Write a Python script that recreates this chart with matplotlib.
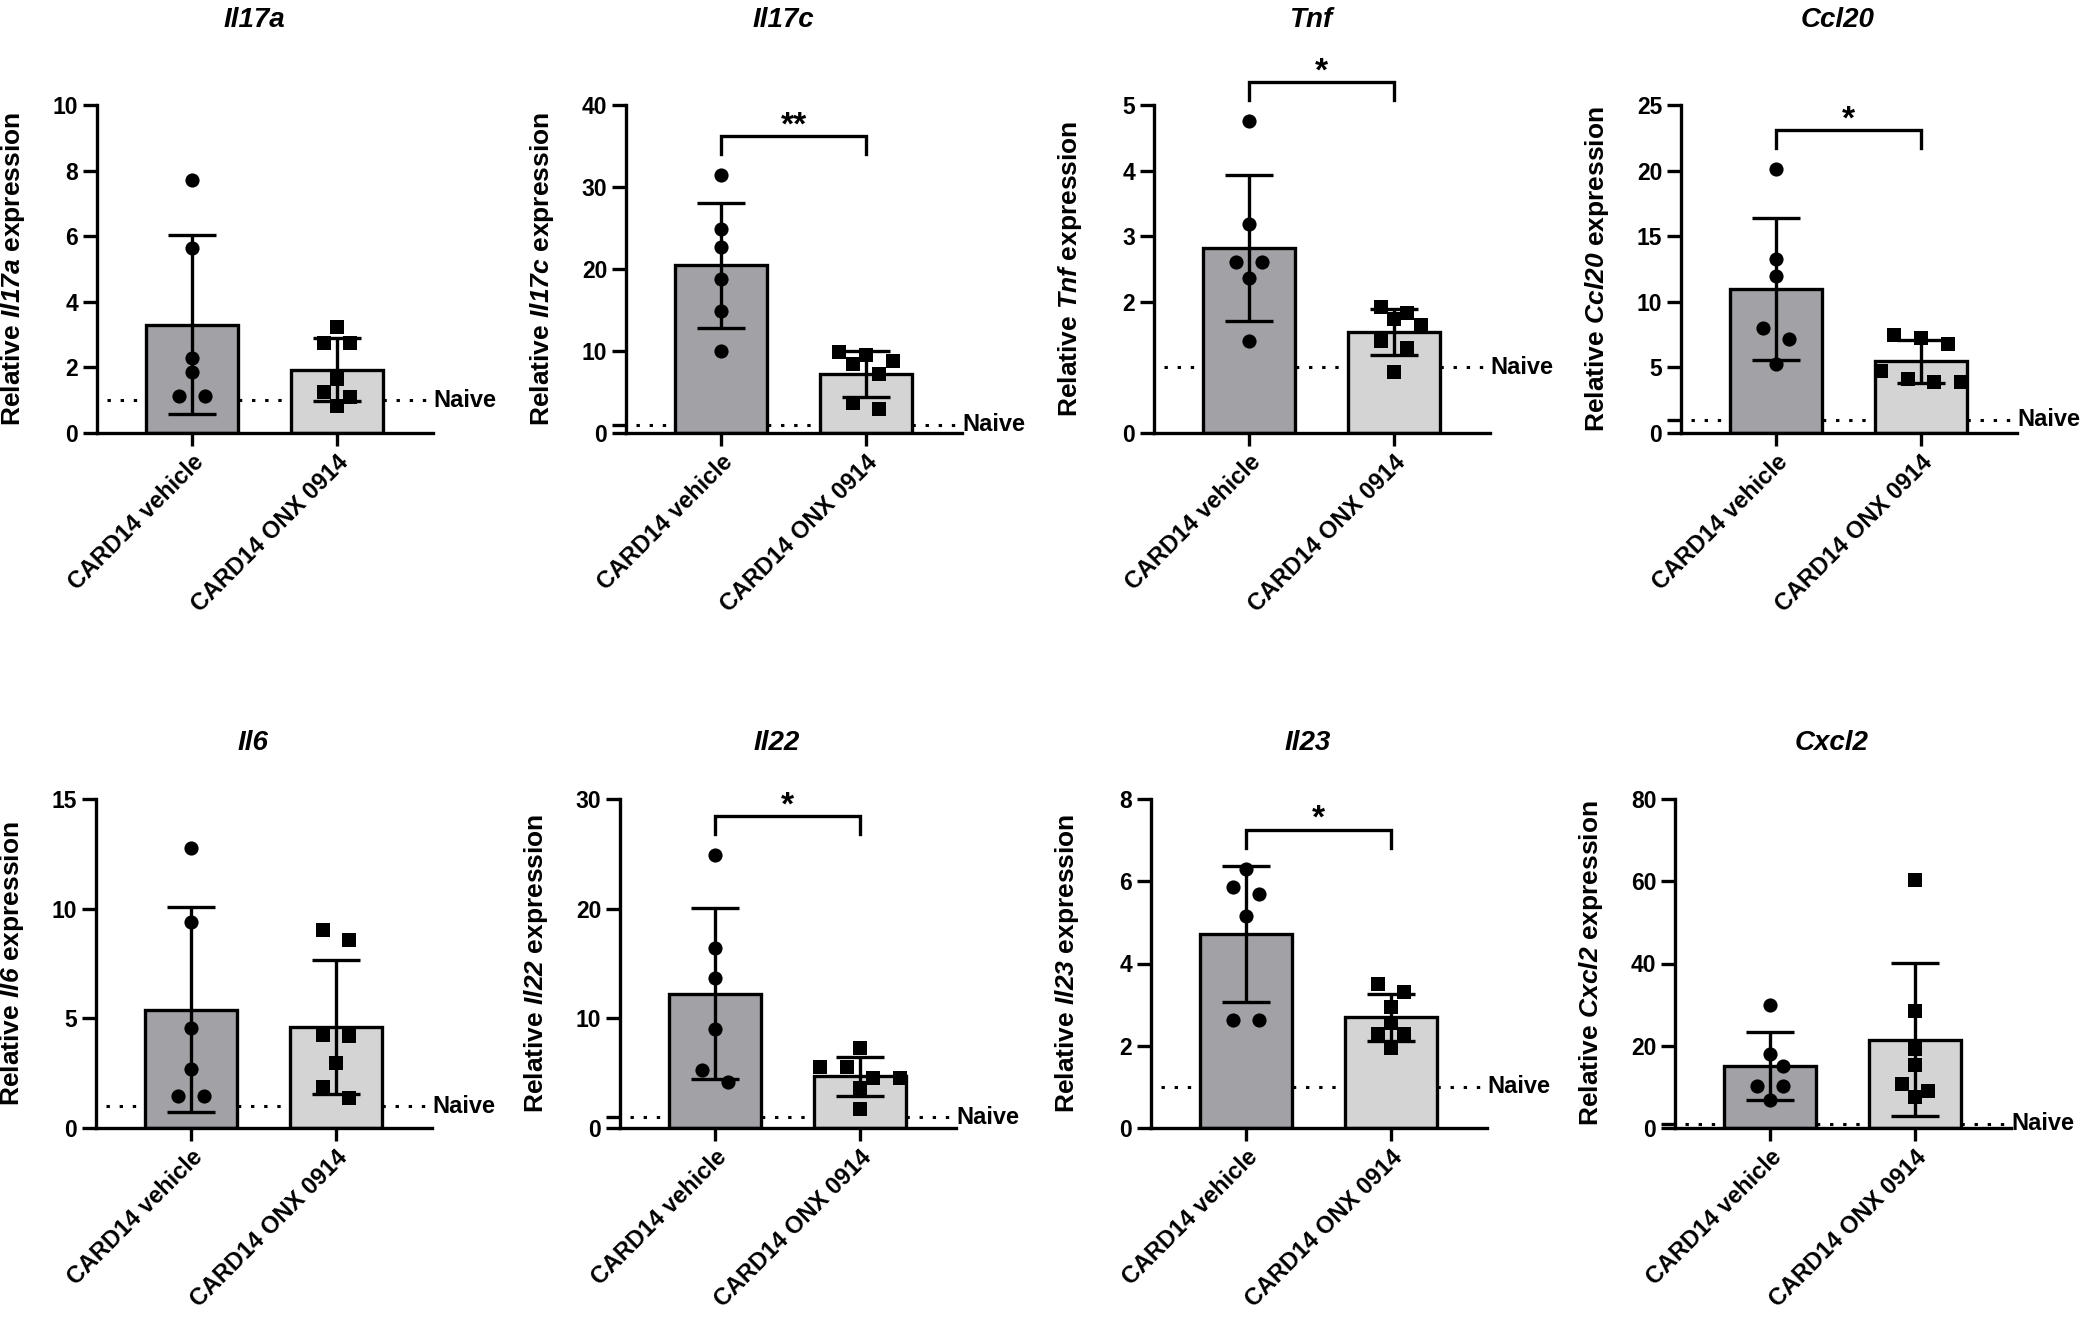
import numpy as np
import matplotlib
matplotlib.use('Agg')
import matplotlib.pyplot as plt

plt.rcParams['font.family'] = ['Liberation Sans', 'DejaVu Sans']
plt.rcParams['mathtext.fontset'] = 'custom'
plt.rcParams['mathtext.rm'] = 'Liberation Sans:bold'
plt.rcParams['mathtext.bfit'] = 'Liberation Sans:italic:bold'

groups = ['CARD14 vehicle', 'CARD14 ONX 0914']
genes = ['Il17a', 'Il17c', 'Tnf', 'Ccl20', 'Il6', 'Il22', 'Il23', 'Cxcl2']

# relative expression, one value per mouse
il17a_veh = [7.7, 5.63, 2.29, 1.87, 1.14, 1.14]
il17a_onx = [3.24, 2.73, 2.73, 1.65, 1.25, 1.11, 0.81]
il17c_veh = [31.45, 24.9, 22.7, 18.8, 14.9, 9.94]
il17c_onx = [9.84, 9.46, 8.78, 8.4, 7.25, 3.6, 2.98]
tnf_veh = [4.75, 3.18, 2.61, 2.61, 2.37, 1.40]
tnf_onx = [1.92, 1.83, 1.74, 1.64, 1.40, 1.29, 0.93]
ccl20_veh = [20.1, 13.3, 12.0, 8.0, 7.2, 5.25]
ccl20_onx = [7.5, 7.26, 6.75, 4.74, 4.1, 3.9, 3.9]
il6_veh = [12.78, 9.41, 4.55, 2.71, 1.45, 1.45]
il6_onx = [9.02, 8.56, 4.23, 4.18, 2.96, 1.86, 1.39]
il22_veh = [24.87, 16.4, 13.7, 9.06, 5.25, 4.23]
il22_onx = [7.32, 5.55, 5.55, 4.6, 4.53, 3.66, 1.7]
il23_veh = [6.3, 5.87, 5.69, 5.16, 2.63, 2.63]
il23_onx = [3.5, 3.3, 2.95, 2.56, 2.28, 2.28, 1.95]
cxcl2_veh = [29.9, 17.9, 15.1, 10.3, 10.1, 6.84]
cxcl2_onx = [60.4, 28.4, 19.3, 15.3, 10.6, 9.05, 7.5]

veh_data = [il17a_veh, il17c_veh, tnf_veh, ccl20_veh, il6_veh, il22_veh, il23_veh, cxcl2_veh]
onx_data = [il17a_onx, il17c_onx, tnf_onx, ccl20_onx, il6_onx, il22_onx, il23_onx, cxcl2_onx]

ymax = [10, 40, 5, 25, 15, 30, 8, 80]
yticks = [[0, 2, 4, 6, 8, 10], [0, 10, 20, 30, 40], [0, 2, 3, 4, 5],
          [0, 5, 10, 15, 20, 25], [0, 5, 10, 15], [0, 10, 20, 30],
          [0, 2, 4, 6, 8], [0, 20, 40, 60, 80]]
naive_tick = [False, True, False, True, False, True, False, True]
sig = ['', '**', '*', '*', '', '*', '*', '']
naive = 1.0

dark = '#a2a1a6'
light = '#d4d4d4'

W, H = 2088, 1328
fig = plt.figure(figsize=(W / 100, H / 100), dpi=100)

row_top = [105, 799]
row_bot = [433, 1128]
col_left = [[97, 626, 1154, 1681], [96, 620, 1151, 1675]]
ax_w = 336
xlo, xhi = -0.655, 1.662
lw = 2.4
dot_d = 14.0    # marker diameter in px
step = 26.6     # horizontal swarm spacing in px


def swarm(vals, ppu_y):
    # row-wise beeswarm (points close in y share a centred row), offsets in px
    vals = np.asarray(vals, dtype=float)
    order = list(np.argsort(-vals, kind='stable'))
    rows = []
    for i in order:
        if rows and (vals[rows[-1][0]] - vals[i]) * ppu_y < 0.81 * dot_d:
            rows[-1].append(i)
        else:
            rows.append([i])
    placed = []
    offs = np.zeros(len(vals))
    for row in rows:
        n = len(row)
        base = [(j - (n - 1) / 2) * step for j in range(n)]
        best = base
        for shift in [0, 0.5, -0.5, 1, -1, 1.5, -1.5]:
            trial = [b + shift * step for b in base]
            ok = True
            for i, x in zip(row, trial):
                y = vals[i] * ppu_y
                if any((x - px) ** 2 + (y - py) ** 2 < (0.95 * dot_d) ** 2 for px, py in placed):
                    ok = False
                    break
            if ok:
                best = trial
                break
        for i, x in zip(row, best):
            offs[i] = x
            placed.append((x, vals[i] * ppu_y))
    return offs


for k, gene in enumerate(genes):
    r, c = divmod(k, 4)
    left = col_left[r][c]
    top, bot = row_top[r], row_bot[r]
    ax = fig.add_axes([left / W, 1 - bot / H, ax_w / W, (bot - top) / H])
    ax.set_xlim(xlo, xhi)
    ax.set_ylim(0, ymax[k])

    ppu_y = (bot - top) / ymax[k]
    ppu_x = ax_w / (xhi - xlo)

    veh = np.array(veh_data[k])
    onx = np.array(onx_data[k])
    means = [veh.mean(), onx.mean()]
    sds = [veh.std(ddof=1), onx.std(ddof=1)]

    ax.plot([xlo + 0.07, xhi], [naive, naive], ls=(0, (1.1, 3.2)), color='black',
            lw=2.2, zorder=1, clip_on=False)
    ax.bar([0, 1], means, width=0.64, color=[dark, light], edgecolor='black',
           linewidth=lw, zorder=2)
    ax.errorbar([0, 1], means, yerr=sds, fmt='none', ecolor='black', elinewidth=lw,
                capsize=17, capthick=lw, zorder=3)

    for xi, vals, mk in [(0, veh, 'o'), (1, onx, 's')]:
        offs = swarm(vals, ppu_y) / ppu_x
        ax.scatter(xi + offs, vals, marker=mk, s=(10.2 if mk == 'o' else 9.4) ** 2,
                   color='black', linewidths=0, zorder=4, clip_on=False)

    ax.text(1.0, naive, 'Naive', transform=ax.get_yaxis_transform(), ha='left',
            va='center', fontsize=17, fontweight='bold', clip_on=False)

    if sig[k]:
        top_pt = max(veh.max(), onx.max())
        y_br = top_pt + 39 / ppu_y
        leg = 18 / ppu_y
        ax.plot([0, 0, 1, 1], [y_br - leg, y_br, y_br, y_br - leg], color='black',
                lw=lw, clip_on=False, solid_joinstyle='miter')
        ax.text(0.5, y_br + 2 / ppu_y, sig[k], ha='center', va='baseline',
                fontsize=24, fontweight='bold', clip_on=False)

    ticks = list(yticks[k])
    labels = [str(t) for t in ticks]
    if naive_tick[k]:
        ticks.append(1)
        labels.append('')
    ax.set_yticks(ticks)
    ax.set_yticklabels(labels, fontsize=16.5, fontweight='bold')
    ax.set_xticks([0, 1])
    ax.set_xticklabels(groups, fontsize=17, fontweight='bold', rotation=45,
                       ha='right', va='top', rotation_mode='anchor')
    ax.tick_params(axis='y', length=10, width=lw, pad=3.5)
    ax.tick_params(axis='x', length=9.5, width=lw, pad=3)
    for s in ['top', 'right']:
        ax.spines[s].set_visible(False)
    for s in ['left', 'bottom']:
        ax.spines[s].set_linewidth(lw)

    ax.set_ylabel(f'Relative $\\mathbfit{{{gene}}}$ expression', fontsize=19,
                  fontweight='bold')
    ax.yaxis.set_label_coords(-70 / ax_w, 0.5)

    title_y = [20, 743][r]
    fig.text((left + 157) / W, 1 - title_y / H, gene, ha='center', va='center',
             fontsize=20, fontweight='bold', style='italic')

fig.savefig('out.png', dpi=100, facecolor='white')
